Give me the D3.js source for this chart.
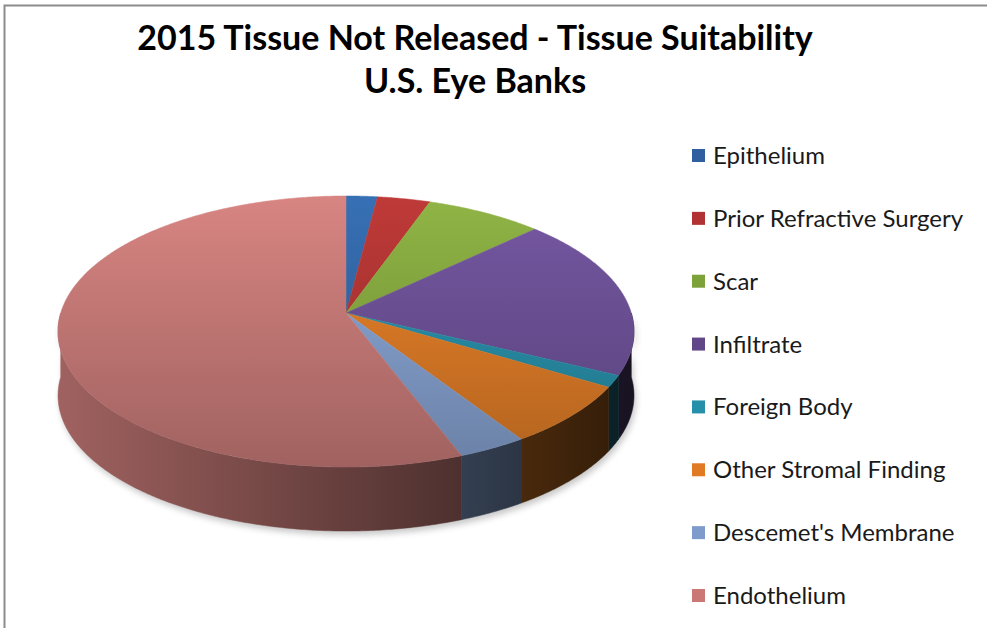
<!DOCTYPE html>
<html>
<head>
<meta charset="utf-8">
<script src="https://cdn.jsdelivr.net/npm/d3@7"></script>
<style>
  html, body { margin: 0; padding: 0; background: #ffffff; }
  svg { display: block; }
</style>
</head>
<body>
<svg id="chart" width="987" height="628"></svg>
<script>
// ---------------- data ----------------
const titleLines = ["2015 Tissue Not Released - Tissue Suitability", "U.S. Eye Banks"];
const categories = ["Epithelium", "Prior Refractive Surgery", "Scar", "Infiltrate",
                    "Foreign Body", "Other Stromal Finding", "Descemet's Membrane", "Endothelium"];
const values = [2.0, 3.4, 7.5, 19.4, 1.4, 7.2, 3.4, 55.8];
const topColors = ["#3770b5", "#bf3a38", "#90b545", "#7658a3", "#2b9ab5", "#f0862a", "#90aee0", "#d88582"];
const legendColors = ["#2f5f9f", "#b03232", "#7ea23a", "#624788", "#2690ab", "#e07a23", "#7e9bcc", "#cb7774"];

// ---------------- geometry ----------------
const W = 987, H = 628;
const cx = 346, cy = 313;      // projected centre of the top face
const A = 285.3, B = 133;      // horizontal / vertical radii factors
const k = 0.1365;              // perspective strength
const depth = 64;              // thickness of the pie

const svg = d3.select("#chart");
const defs = svg.append("defs");

// frame
svg.append("rect").attr("x", 4.5).attr("y", 5.5).attr("width", 1100).attr("height", 800)
  .attr("fill", "none").attr("stroke", "#8c8c8c").attr("stroke-width", 2);

function proj(a) {
  const X = Math.sin(a), Z = -Math.cos(a);
  const w = 1 - k * Z;
  return [cx + A * X / w, cy + B * Z / w];
}
function arcPts(a0, a1, dy) {
  const n = Math.max(2, Math.ceil(Math.abs(a1 - a0) / (Math.PI / 360)));
  const pts = [];
  for (let i = 0; i <= n; i++) {
    const p = proj(a0 + (a1 - a0) * i / n);
    pts.push([p[0], p[1] + dy]);
  }
  return pts;
}
const minX = d3.min(d3.range(0, 2 * Math.PI, 0.01), a => proj(a)[0]);
const maxX = d3.max(d3.range(0, 2 * Math.PI, 0.01), a => proj(a)[0]);
const topY = proj(0)[1], botY = proj(Math.PI)[1];

const pie = d3.pie().sort(null).value(d => d)(values);
const color = d3.scaleOrdinal().domain(categories).range(topColors);
const lcolor = d3.scaleOrdinal().domain(categories).range(legendColors);

function scaleCol(c, f) {
  const r = d3.rgb(c);
  return d3.rgb(r.r * f, r.g * f, r.b * f).formatHex();
}

// gradients
pie.forEach((d, i) => {
  const c = color(categories[i]);
  const gt = defs.append("linearGradient").attr("id", "gt" + i)
    .attr("gradientUnits", "userSpaceOnUse")
    .attr("x1", 0).attr("y1", topY).attr("x2", 0).attr("y2", botY);
  gt.append("stop").attr("offset", 0).attr("stop-color", c);
  gt.append("stop").attr("offset", 1).attr("stop-color", scaleCol(c, 0.74));
  const gs = defs.append("linearGradient").attr("id", "gs" + i)
    .attr("gradientUnits", "userSpaceOnUse")
    .attr("x1", minX).attr("y1", 0).attr("x2", maxX).attr("y2", 0);
  gs.append("stop").attr("offset", 0).attr("stop-color", scaleCol(c, 0.74));
  gs.append("stop").attr("offset", 0.55).attr("stop-color", scaleCol(c, 0.44));
  gs.append("stop").attr("offset", 1).attr("stop-color", scaleCol(c, 0.2));
});

// shadow
const blur = defs.append("filter").attr("id", "blur").attr("x", "-10%").attr("y", "-10%")
  .attr("width", "120%").attr("height", "130%");
blur.append("feGaussianBlur").attr("stdDeviation", 3);
const frontTop = arcPts(Math.PI / 2, 3 * Math.PI / 2, 0);
const frontBot = arcPts(3 * Math.PI / 2, Math.PI / 2, depth);
svg.append("path")
  .attr("d", d3.line()(frontTop.concat(frontBot)) + "Z")
  .attr("fill", "#9a9a9a").attr("opacity", 0.55)
  .attr("transform", "translate(2,4)")
  .attr("filter", "url(#blur)");

const g = svg.append("g");

// side walls (front half only)
pie.forEach((d, i) => {
  const a0 = Math.max(d.startAngle, Math.PI / 2);
  const a1 = Math.min(d.endAngle, 3 * Math.PI / 2);
  if (a1 <= a0) return;
  const pts = arcPts(a0, a1, 0).concat(arcPts(a1, a0, depth));
  g.append("path").attr("d", d3.line()(pts) + "Z")
    .attr("fill", `url(#gs${i})`)
    .attr("stroke", `url(#gs${i})`).attr("stroke-width", 0.5);
});

// top faces
pie.forEach((d, i) => {
  const pts = [[cx, cy]].concat(arcPts(d.startAngle, d.endAngle, 0));
  g.append("path").attr("d", d3.line()(pts) + "Z")
    .attr("fill", `url(#gt${i})`)
    .attr("stroke", `url(#gt${i})`).attr("stroke-width", 0.5);
});

// title
const titleFont = "Lato, 'Open Sans', sans-serif";
svg.append("g").selectAll("text").data(titleLines).join("text")
  .attr("x", 475)
  .attr("y", (d, i) => 50 + i * 43)
  .attr("text-anchor", "middle")
  .attr("font-family", titleFont)
  .attr("font-weight", "bold")
  .attr("font-size", 34)
  .attr("fill", "#000")
  .text(d => d);

// legend
const ly = d3.scalePoint().domain(categories).range([156, 596]);
const leg = svg.append("g").selectAll("g").data(categories).join("g")
  .attr("transform", d => `translate(692,${ly(d)})`);
leg.append("rect").attr("x", 0).attr("y", -7).attr("width", 13).attr("height", 13)
  .attr("fill", d => lcolor(d));
leg.append("text").attr("x", 21).attr("y", 8)
  .attr("font-family", titleFont)
  .attr("font-size", 24)
  .attr("fill", "#1a1a1a")
  .text(d => d);
</script>
</body>
</html>
